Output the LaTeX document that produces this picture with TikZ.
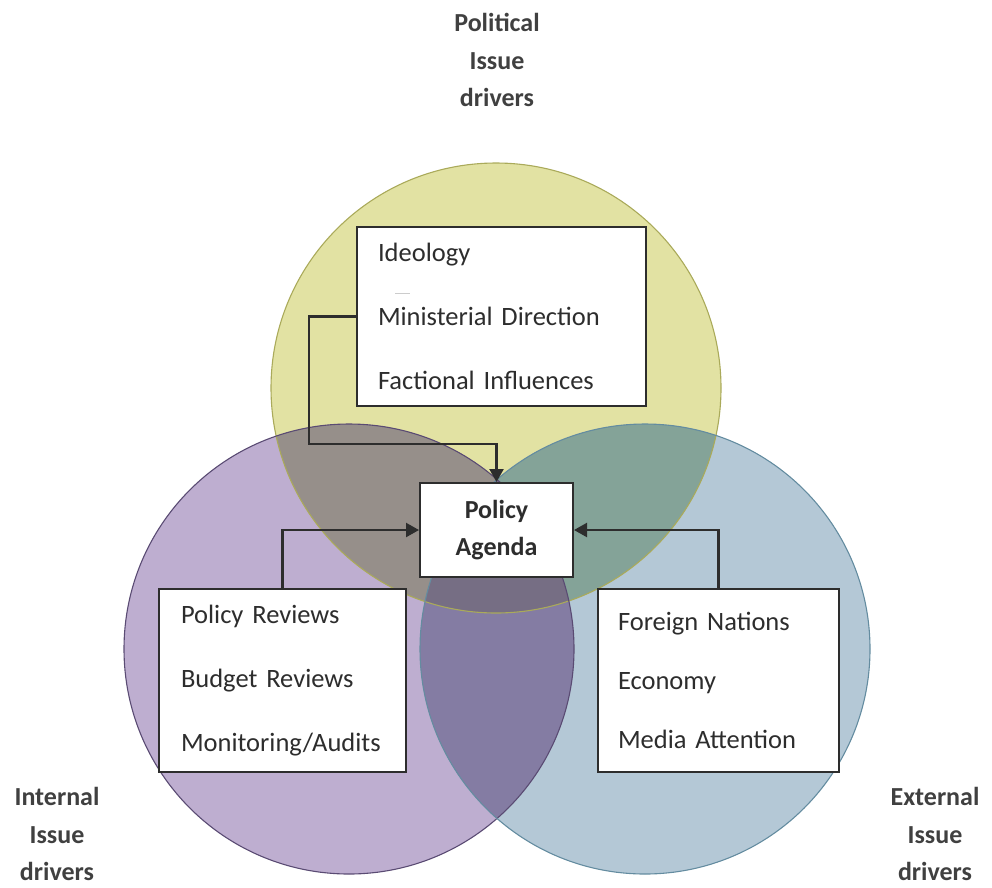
\documentclass[tikz,border=0pt]{standalone}
\usepackage{fontspec}
\setmainfont{Carlito}
\usetikzlibrary{arrows.meta}

\definecolor{inkgray}{RGB}{45,45,45}
\definecolor{labelgray}{RGB}{64,64,64}
% single regions
\definecolor{polfill}{RGB}{226,226,163}
\definecolor{intfill}{RGB}{190,174,208}
\definecolor{extfill}{RGB}{180,200,214}
% overlaps
\definecolor{polint}{RGB}{150,143,138}
\definecolor{polext}{RGB}{132,163,152}
\definecolor{intext}{RGB}{132,124,163}
\definecolor{allthree}{RGB}{118,110,132}
% circle outlines
\definecolor{poledge}{RGB}{170,170,90}
\definecolor{intedge}{RGB}{90,75,115}
\definecolor{extedge}{RGB}{100,140,160}

\tikzset{
  driverbox/.style={draw=inkgray, line width=2pt, fill=white, align=left,
    font=\fontsize{26.5}{64}\selectfont, text=inkgray, inner sep=0pt},
  agendabox/.style={draw=inkgray, line width=2pt, fill=white, align=center,
    minimum width=153pt, minimum height=94pt, inner sep=0pt,
    font=\fontsize{26}{37}\selectfont\bfseries, text=inkgray},
  sectorlabel/.style={align=center, font=\fontsize{26}{37.5}\selectfont\bfseries,
    text=labelgray, inner sep=0pt},
  conn/.style={draw=inkgray, line width=2.2pt,
    -{Triangle[length=13pt,width=14pt]}},
}

\def\polcirc{(496,388) circle (225)}
\def\intcirc{(349,649) circle (225)}
\def\extcirc{(645,649) circle (225)}

\begin{document}
\begin{tikzpicture}[x=1pt, y=-1pt]
  \useasboundingbox (0,0) rectangle (992,887);

  % three overlapping driver circles, each region with its own tint
  \fill[polfill] \polcirc;
  \fill[intfill] \intcirc;
  \fill[extfill] \extcirc;
  \begin{scope}
    \clip \intcirc;
    \fill[intext] \extcirc;
  \end{scope}
  \begin{scope}
    \clip \polcirc;
    \fill[polint] \intcirc;
    \fill[polext] \extcirc;
    \begin{scope}
      \clip \intcirc;
      \fill[allthree] \extcirc;
    \end{scope}
  \end{scope}
  \draw[poledge, line width=1.1pt] \polcirc;
  \draw[intedge, line width=1.1pt] \intcirc;
  \draw[extedge, line width=1.1pt] \extcirc;

  % sector captions
  \node[sectorlabel] (pollabel) at (497,60) {Political\\Issue\\drivers};
  \node[sectorlabel] (intlabel) at (57,834) {Internal\\Issue\\drivers};
  \node[sectorlabel] (extlabel) at (935,834) {External\\Issue\\drivers};

  % driver boxes
  \node[driverbox, minimum width=289pt, minimum height=179pt, text width=247pt]
    (topbox) at (501.5,316.5) {Ideology\\Ministerial Direction\\Factional Influences};
  \node[driverbox, minimum width=247pt, minimum height=183pt, text width=203pt]
    (intbox) at (282.5,680.5) {Policy Reviews\\Budget Reviews\\Monitoring/Audits};
  \node[driverbox, minimum width=241pt, minimum height=183pt, text width=201pt,
    font=\fontsize{26.5}{59}\selectfont]
    (extbox) at (718.5,680.5) {Foreign Nations\\Economy\\Media Attention\\[4pt]};

  % small stray mark inside the top box
  \draw[gray!40, line width=0.8pt] (395,293) -- (410,293);

  % central box
  \node[agendabox] (policy) at (496.5,530) {Policy\\Agenda};

  % connectors into the central box
  \coordinate (topbend) at (309,444);
  \draw[conn] (topbox.west) -| (topbend) -| (policy.north);
  \draw[conn] (intbox.north) |- (policy.west);
  \draw[conn] (extbox.north) |- (policy.east);
\end{tikzpicture}
\end{document}
